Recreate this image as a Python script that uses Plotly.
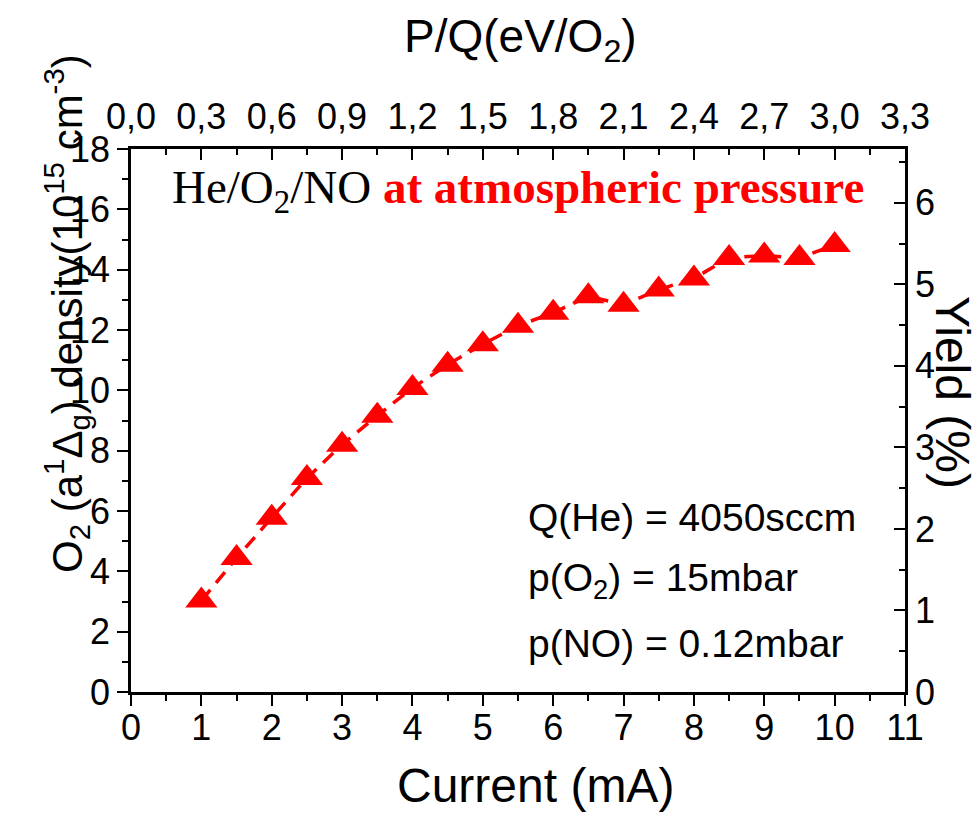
import plotly.graph_objects as go

# Discharge current (mA) and O2(a1Δg) density (10^15 cm^-3)
current_ma = [1.0, 1.5, 2.0, 2.5, 3.0, 3.5, 4.0, 4.5, 5.0, 5.5,
              6.0, 6.5, 7.0, 7.5, 8.0, 8.5, 9.0, 9.5, 10.0]
density = [3.03, 4.44, 5.78, 7.09, 8.20, 9.16, 10.08, 10.85, 11.53, 12.14,
           12.57, 13.12, 12.84, 13.34, 13.71, 14.39, 14.47, 14.39, 14.82]

# Secondary (top) axis: specific energy P/Q
pq_ticks = [0.0, 0.3, 0.6, 0.9, 1.2, 1.5, 1.8, 2.1, 2.4, 2.7, 3.0, 3.3]
pq_labels = ["0,0", "0,3", "0,6", "0,9", "1,2", "1,5", "1,8", "2,1",
             "2,4", "2,7", "3,0", "3,3"]

W, H = 978, 813
L, R, T, B = 131, 73, 149, 121
FONT = "Liberation Sans, Arial, sans-serif"
SERIF = "Liberation Serif, Times New Roman, serif"


def px(x):
    return (x - L) / (W - L - R)


def py(y):
    return (H - B - y) / (H - B - T)


fig = go.Figure()
fig.add_trace(go.Scatter(
    x=current_ma, y=density, mode="lines+markers",
    line=dict(color="#ff0000", width=3.5, dash="14px,9px"),
    marker=dict(symbol="triangle-up", size=28, color="#ff0000"),
    showlegend=False, hoverinfo="skip",
))
# empty trace so the top (P/Q) and right (yield) axes get drawn
fig.add_trace(go.Scatter(
    x=[None], y=[None], xaxis="x2", yaxis="y2", mode="markers",
    showlegend=False, hoverinfo="skip",
))

axis_common = dict(showline=True, linecolor="black", linewidth=2.5,
                   showgrid=False, zeroline=False, tickcolor="black",
                   tickwidth=2, ticklen=11,
                   tickfont=dict(family=FONT, size=36, color="black"))

fig.update_layout(
    width=W, height=H, autosize=False,
    margin=dict(l=L, r=R, t=T, b=B),
    paper_bgcolor="white", plot_bgcolor="white",
    showlegend=False,
    xaxis=dict(range=[0, 11], tick0=0, dtick=1, ticks="outside",
               ticklabelstandoff=-9,
               minor=dict(tick0=0, dtick=0.5, ticks="outside", ticklen=6,
                          tickwidth=2, tickcolor="black"),
               **axis_common),
    xaxis2=dict(range=[0, 3.3], overlaying="x", side="top", anchor="y2",
                tickmode="array", tickvals=pq_ticks, ticktext=pq_labels,
                ticks="inside", ticklabelstandoff=3,
                minor=dict(tick0=0, dtick=0.15, ticks="inside", ticklen=6,
                           tickwidth=2, tickcolor="black"),
                **axis_common),
    yaxis=dict(range=[0, 18], tick0=0, dtick=2, ticks="outside",
               minor=dict(tick0=0, dtick=1, ticks="outside", ticklen=6,
                          tickwidth=2, tickcolor="black"),
               **axis_common),
    yaxis2=dict(range=[0, 6.66], overlaying="y", side="right", anchor="x2",
                tick0=0, dtick=1, ticks="inside",
                minor=dict(tick0=0, dtick=0.5, ticks="inside", ticklen=6,
                           tickwidth=2, tickcolor="black"),
                **axis_common),
)

annotations = [
    # axis titles
    dict(x=px(535), y=py(785), text="Current (mA)",
         font=dict(family=FONT, size=48, color="black")),
    dict(x=px(520), y=py(40), text="P/Q(eV/O<sub>2</sub>)",
         font=dict(family=FONT, size=46, color="black")),
    dict(x=px(66), y=py(314), textangle=-90,
         text="O<sub>2</sub> (a<sup>1</sup>Δ<sub>g</sub>) density(10<sup>15</sup> cm<sup>-3</sup>)",
         font=dict(family=FONT, size=42, color="black")),
    dict(x=px(953), y=py(392), textangle=90, text="Yield (%)",
         font=dict(family=FONT, size=48, color="black")),
    # gas mixture label
    dict(x=px(170), y=py(190), xanchor="left",
         text="He/O<sub>2</sub>/NO <span style='color:#ff0000'><b>at atmospheric pressure</b></span>",
         font=dict(family=SERIF, size=47, color="black")),
    # operating conditions
    dict(x=px(526), y=py(517), xanchor="left", text="Q(He) = 4050sccm",
         font=dict(family=FONT, size=39, color="black")),
    dict(x=px(526), y=py(580), xanchor="left", text="p(O<sub>2</sub>) = 15mbar",
         font=dict(family=FONT, size=39, color="black")),
    dict(x=px(526), y=py(643), xanchor="left", text="p(NO) = 0.12mbar",
         font=dict(family=FONT, size=39, color="black")),
]
for a in annotations:
    a.setdefault("xanchor", "center")
    fig.add_annotation(xref="paper", yref="paper", yanchor="middle",
                       showarrow=False, **a)

fig.write_html("out.html")
